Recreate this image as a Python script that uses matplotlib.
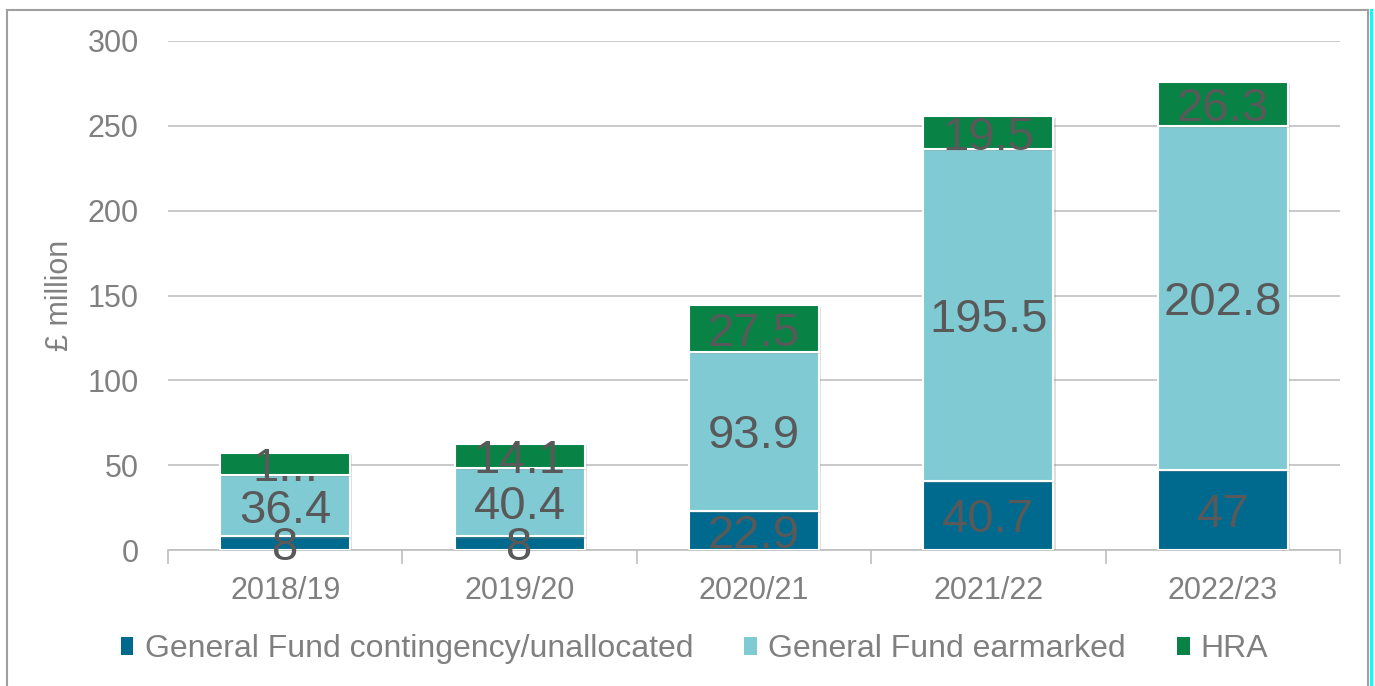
import matplotlib
matplotlib.use("Agg")
import matplotlib.pyplot as plt
import matplotlib.patheffects as pe
from matplotlib.patches import Rectangle
import numpy as np

categories = ["2018/19", "2019/20", "2020/21", "2021/22", "2022/23"]
contingency = [8, 8, 22.9, 40.7, 47]
earmarked = [36.4, 40.4, 93.9, 195.5, 202.8]
hra = [12.7, 14.1, 27.5, 19.5, 26.3]
series_names = ["General Fund contingency/unallocated", "General Fund earmarked", "HRA"]
colors = ["#006A8E", "#80CAD4", "#088245"]
yticks = [0, 50, 100, 150, 200, 250, 300]

plt.rcParams['font.family'] = ['Liberation Sans', 'DejaVu Sans']

fig = plt.figure(figsize=(13.75, 6.86), dpi=100)
ax = fig.add_axes([168/1375, 1-550/686, (1340-168)/1375, (550-41)/686])

x = np.arange(len(categories))
width = 0.555
bottoms = np.zeros(len(categories))
label_color = "#595959"
shadow = [pe.SimplePatchShadow(offset=(1.5, -1.5), shadow_rgbFace="#808080", alpha=0.25), pe.Normal()]
for si, (vals, col) in enumerate(zip([contingency, earmarked, hra], colors)):
    vals = np.array(vals, dtype=float)
    bars = ax.bar(x, vals, width, bottom=bottoms, color=col, edgecolor="white",
                  linewidth=1.5, label=series_names[si], zorder=3)
    for b in bars:
        b.set_path_effects(shadow)
    for i, (b, v) in enumerate(zip(bottoms, vals)):
        txt = f"{v:g}"
        if si == 2 and i == 0:
            txt = txt[:1] + "..."
        ax.text(i, b + v / 2, txt, ha="center", va="center_baseline", fontsize=34,
                color=label_color, zorder=4)
    bottoms = bottoms + vals

ax.set_ylim(0, 300)
ax.set_xlim(-0.5, len(categories) - 0.5)
ax.set_yticks(yticks)
ax.set_xticks(x)
ax.set_xticklabels(categories)
ax.tick_params(axis="y", length=0, labelsize=22, labelcolor="#808080", pad=21)
ax.tick_params(axis="x", length=0, labelsize=22, labelcolor="#808080", pad=19)
ax.set_xticks(np.arange(-0.5, len(categories)), minor=True)
ax.tick_params(axis="x", which="minor", length=10, color="#bfbfbf", width=1.2)
ax.grid(axis="y", color="#c0c0c0", linewidth=1.2, zorder=0)
for s in ["top", "right", "left"]:
    ax.spines[s].set_visible(False)
ax.spines["bottom"].set_color("#bfbfbf")
ax.spines["bottom"].set_linewidth(1.2)
fig.text(60/1375, 1-295/686, "£ million", rotation=90, ha="center", va="center",
         fontsize=22, color="#808080")

handles, labels = ax.get_legend_handles_labels()
leg = fig.legend(handles, labels, loc="center", bbox_to_anchor=(0.5 + 7/1375, 1-649/686),
                 ncol=3, frameon=False, fontsize=23, labelcolor="#808080",
                 handlelength=0.4, handleheight=0.5, handletextpad=0.35,
                 columnspacing=1.6)
for h in leg.legend_handles:
    h.set_edgecolor("none")
    h.set_path_effects([])

# outer frame and right edge line
fig.patches.append(Rectangle((7/1375, -0.01), (1368-7)/1375, 1-10/686 + 0.01,
                             transform=fig.transFigure, fill=False,
                             edgecolor="#a0a0a0", linewidth=1.5))
fig.patches.append(Rectangle((1370/1375, 0), 3/1375, 1-9/686,
                             transform=fig.transFigure, facecolor="#00FFFF",
                             edgecolor="none"))

fig.savefig("out.png", dpi=100)
